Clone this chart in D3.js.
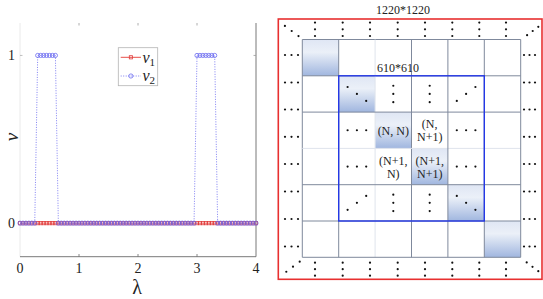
<!DOCTYPE html>
<html>
<head>
<meta charset="utf-8">
<script src="https://cdn.jsdelivr.net/npm/d3@7"></script>
<style>
  body { margin: 0; background: #fff; }
  svg text { font-family: "Liberation Serif", "DejaVu Serif", serif; }
</style>
</head>
<body>
<svg id="chart" width="543" height="299"></svg>
<script>
// ── Data ─────────────────────────────────────
const lambda = [
  0.00, 0.05, 0.10, 0.15, 0.20, 0.25, 0.30, 0.35, 0.40, 0.45,
  0.50, 0.55, 0.60, 0.65, 0.70, 0.75, 0.80, 0.85, 0.90, 0.95,
  1.00, 1.05, 1.10, 1.15, 1.20, 1.25, 1.30, 1.35, 1.40, 1.45,
  1.50, 1.55, 1.60, 1.65, 1.70, 1.75, 1.80, 1.85, 1.90, 1.95,
  2.00, 2.05, 2.10, 2.15, 2.20, 2.25, 2.30, 2.35, 2.40, 2.45,
  2.50, 2.55, 2.60, 2.65, 2.70, 2.75, 2.80, 2.85, 2.90, 2.95,
  3.00, 3.05, 3.10, 3.15, 3.20, 3.25, 3.30, 3.35, 3.40, 3.45,
  3.50, 3.55, 3.60, 3.65, 3.70, 3.75, 3.80, 3.85, 3.90, 3.95,
  4.00
];
const nu1 = [
  0,0,0,0,0,0,0,0,0,0, 0,0,0,0,0,0,0,0,0,0,
  0,0,0,0,0,0,0,0,0,0, 0,0,0,0,0,0,0,0,0,0,
  0,0,0,0,0,0,0,0,0,0, 0,0,0,0,0,0,0,0,0,0,
  0,0,0,0,0,0,0,0,0,0, 0,0,0,0,0,0,0,0,0,0,
  0
];
const nu2 = [
  0,0,0,0,0,0,1,1,1,1, 1,1,1,0,0,0,0,0,0,0,
  0,0,0,0,0,0,0,0,0,0, 0,0,0,0,0,0,0,0,0,0,
  0,0,0,0,0,0,0,0,0,0, 0,0,0,0,0,0,0,0,0,0,
  1,1,1,1,1,1,1,0,0,0, 0,0,0,0,0,0,0,0,0,0,
  0
];
const xTicks = [0, 1, 2, 3, 4];
const yTicks = [0, 1];

// Matrix sketch: diagonal cells shaded, cell text in the centre block
const gridN = 6;
const shadedCells = [[0,0],[1,1],[2,2],[3,3],[4,4],[5,5]];
const cellLabels = [
  { r: 2, c: 2, lines: ["(N, N)"] },
  { r: 2, c: 3, lines: ["(N,", "N+1)"] },
  { r: 3, c: 2, lines: ["(N+1,", "N)"] },
  { r: 3, c: 3, lines: ["(N+1,", "N+1)"] }
];
// dot glyphs: "h" horizontal, "v" vertical, "d" down-diagonal, "u" up-diagonal
const cellDots = [
  { r: 1, c: 1, type: "d" }, { r: 1, c: 2, type: "v" }, { r: 1, c: 3, type: "v" }, { r: 1, c: 4, type: "u" },
  { r: 2, c: 1, type: "h" }, { r: 2, c: 4, type: "h" },
  { r: 3, c: 1, type: "h" }, { r: 3, c: 4, type: "h" },
  { r: 4, c: 1, type: "u" }, { r: 4, c: 2, type: "v" }, { r: 4, c: 3, type: "v" }, { r: 4, c: 4, type: "d" }
];

const svg = d3.select("#chart");

// ── Left plot ────────────────────────────────
const x = d3.scaleLinear().domain([0, 4]).range([20, 256]);
const y = d3.scaleLinear().domain([-0.2, 1.2]).range([256.7, 21.9]);

const plot = svg.append("g");

// axes lines
plot.append("line").attr("x1", 20).attr("x2", 20).attr("y1", 23).attr("y2", 256.7)
  .attr("stroke", "#e4e4e4").attr("stroke-width", 0.8);
plot.append("line").attr("x1", 256).attr("x2", 256).attr("y1", 23).attr("y2", 256.7)
  .attr("stroke", "#6a6a6a").attr("stroke-width", 0.9);
plot.append("line").attr("x1", 20).attr("x2", 256).attr("y1", 256.7).attr("y2", 256.7)
  .attr("stroke", "#6a6a6a").attr("stroke-width", 0.9);

// ticks
xTicks.slice(1, -1).forEach(t => {
  plot.append("line").attr("x1", x(t)).attr("x2", x(t)).attr("y1", 256.7).attr("y2", 254)
    .attr("stroke", "#6a6a6a").attr("stroke-width", 0.8);
  plot.append("line").attr("x1", x(t)).attr("x2", x(t)).attr("y1", 23).attr("y2", 25.5)
    .attr("stroke", "#9a9a9a").attr("stroke-width", 0.8);
});
yTicks.forEach(t => {
  plot.append("line").attr("x1", 20).attr("x2", 22.5).attr("y1", y(t)).attr("y2", y(t))
    .attr("stroke", "#b0b0b0").attr("stroke-width", 0.8);
  plot.append("line").attr("x1", 256).attr("x2", 253.5).attr("y1", y(t)).attr("y2", y(t))
    .attr("stroke", "#9a9a9a").attr("stroke-width", 0.8);
});

// tick labels
plot.selectAll(".xt").data(xTicks).join("text")
  .attr("x", d => x(d)).attr("y", 273)
  .attr("text-anchor", "middle").attr("font-size", 14).attr("fill", "#222")
  .text(d => d);
plot.selectAll(".yt").data(yTicks).join("text")
  .attr("x", 15).attr("y", d => y(d) + 5)
  .attr("text-anchor", "end").attr("font-size", 14).attr("fill", "#222")
  .text(d => d);

// axis titles
plot.append("text").attr("x", 137).attr("y", 294)
  .attr("text-anchor", "middle").attr("font-size", 20).attr("fill", "#222")
  .text("λ");
plot.append("text").attr("transform", "translate(18,137) rotate(-90)")
  .attr("text-anchor", "middle").attr("font-size", 19).attr("fill", "#222")
  .attr("font-style", "italic").text("ν");

// series
const pts1 = lambda.map((l, i) => [l, nu1[i]]);
const pts2 = lambda.map((l, i) => [l, nu2[i]]);
const line = d3.line().x(d => x(d[0])).y(d => y(d[1]));

plot.append("path").attr("d", line(pts1))
  .attr("fill", "none").attr("stroke", "#e8504a").attr("stroke-width", 1);
plot.selectAll(".m1").data(pts1).join("rect")
  .attr("x", d => x(d[0]) - 1.6).attr("y", d => y(d[1]) - 1.6)
  .attr("width", 3.2).attr("height", 3.2)
  .attr("fill", "none").attr("stroke", "#e03c3c").attr("stroke-width", 0.8);

plot.append("path").attr("d", line(pts2))
  .attr("fill", "none").attr("stroke", "#6060ee").attr("stroke-width", 0.8)
  .attr("stroke-dasharray", "1,1.5");
plot.selectAll(".m2").data(pts2).join("circle")
  .attr("cx", d => x(d[0])).attr("cy", d => y(d[1])).attr("r", 2.1)
  .attr("fill", "none").attr("stroke", "#6a6af0").attr("stroke-width", 0.8);

// legend
const leg = plot.append("g");
leg.append("rect").attr("x", 118.3).attr("y", 47.7).attr("width", 39.4).attr("height", 38)
  .attr("fill", "#fff").attr("stroke", "#b4b4b4").attr("stroke-width", 0.8);
leg.append("line").attr("x1", 120.7).attr("x2", 141).attr("y1", 57.3).attr("y2", 57.3)
  .attr("stroke", "#e8504a").attr("stroke-width", 1);
leg.append("rect").attr("x", 129.3).attr("y", 55.7).attr("width", 3.2).attr("height", 3.2)
  .attr("fill", "none").attr("stroke", "#e03c3c").attr("stroke-width", 0.8);
leg.append("line").attr("x1", 120.7).attr("x2", 141).attr("y1", 76).attr("y2", 76)
  .attr("stroke", "#6060ee").attr("stroke-width", 0.8).attr("stroke-dasharray", "1,1.5");
leg.append("circle").attr("cx", 130.9).attr("cy", 76).attr("r", 2.1)
  .attr("fill", "none").attr("stroke", "#6a6af0").attr("stroke-width", 0.8);
[["1", 62.5], ["2", 81]].forEach(([s, yy]) => {
  const t = leg.append("text").attr("x", 142.5).attr("y", yy)
    .attr("font-size", 16).attr("fill", "#222").attr("font-style", "italic");
  t.append("tspan").text("ν");
  t.append("tspan").attr("font-size", 11).attr("font-style", "normal").attr("dy", 3).text(s);
});

// ── Right diagram ────────────────────────────
const gx = d3.scaleLinear().domain([0, gridN]).range([302.3, 520.7]);
const gy = d3.scaleLinear().domain([0, gridN]).range([39.5, 257.3]);
const cw = gx(1) - gx(0), ch = gy(1) - gy(0);

const diag = svg.append("g");

const defs = svg.append("defs");
const grad = defs.append("linearGradient").attr("id", "cellShade")
  .attr("x1", 0).attr("y1", 0).attr("x2", 0).attr("y2", 1);
grad.append("stop").attr("offset", "0%").attr("stop-color", "#dfe6f4");
grad.append("stop").attr("offset", "35%").attr("stop-color", "#ebf0f8");
grad.append("stop").attr("offset", "100%").attr("stop-color", "#a0b6df");

diag.selectAll(".shade").data(shadedCells).join("rect")
  .attr("x", d => gx(d[1])).attr("y", d => gy(d[0]))
  .attr("width", cw).attr("height", ch)
  .attr("fill", "url(#cellShade)");

// grid lines (the middle ones are faint)
d3.range(gridN + 1).forEach(i => {
  diag.append("line").attr("x1", gx(i)).attr("x2", gx(i)).attr("y1", gy(0)).attr("y2", gy(gridN))
    .attr("stroke", i === 2 ? "#dfe4ec" : "#7f899c").attr("stroke-width", 1);
  diag.append("line").attr("x1", gx(0)).attr("x2", gx(gridN)).attr("y1", gy(i)).attr("y2", gy(i))
    .attr("stroke", i === 3 ? "#dfe4ec" : "#7f899c").attr("stroke-width", 1);
});

// inner 610*610 block
diag.append("rect").attr("x", gx(1)).attr("y", gy(1))
  .attr("width", gx(5) - gx(1)).attr("height", gy(5) - gy(1))
  .attr("fill", "none").attr("stroke", "#2438e6").attr("stroke-width", 1.4);
diag.append("text").attr("x", 398).attr("y", 72)
  .attr("text-anchor", "middle").attr("font-size", 12).attr("fill", "#222").text("610*610");

// outer 1220*1220 block
diag.append("rect").attr("x", 278.3).attr("y", 19).attr("width", 263.7).attr("height", 260.3)
  .attr("fill", "none").attr("stroke", "#e83030").attr("stroke-width", 1.6);
diag.append("text").attr("x", 403).attr("y", 14)
  .attr("text-anchor", "middle").attr("font-size", 12).attr("fill", "#222").text("1220*1220");

// cell labels
cellLabels.forEach(d => {
  const cx = gx(d.c) + cw / 2, cy = gy(d.r) + ch / 2;
  const n = d.lines.length;
  d.lines.forEach((s, k) => {
    diag.append("text").attr("x", cx).attr("y", cy + 4.5 + (k - (n - 1) / 2) * 13)
      .attr("text-anchor", "middle").attr("font-size", 12).attr("fill", "#222").text(s);
  });
});

function dot(px, py) {
  diag.append("circle").attr("cx", px).attr("cy", py).attr("r", 1.1).attr("fill", "#111");
}
function glyph(type, cx, cy, s) {
  [-1, 0, 1].forEach(k => {
    if (type === "h") dot(cx + k * s, cy);
    if (type === "v") dot(cx, cy + k * s);
    if (type === "d") dot(cx + k * s, cy + k * s * 0.75);
    if (type === "u") dot(cx + k * s, cy - k * s * 0.75);
  });
}

cellDots.forEach(d => {
  glyph(d.type, gx(d.c) + cw / 2, gy(d.r) + ch / 2, d.type === "v" ? 8.2 : 9.3);
});

// border dots outside the grid
const edgeCols = [315, 342.7, 370, 397.7, 425, 452.3, 479.3, 506];
const edgeRows = [55, 82.5, 109.5, 136.8, 164, 191.5, 219, 246.5];
edgeCols.forEach(cx => { glyph("v", cx, 29.3, 6.7); glyph("v", cx, 269.2, 6.5); });
edgeRows.forEach(cy => { glyph("h", 291.5, cy, 6.5); glyph("h", 529.5, cy, 5.5); });
glyph("d", 291.7, 31, 6.8);
glyph("u", 532.7, 31, 5.6);
glyph("u", 293, 266.7, 6.7);
glyph("d", 532.5, 266.8, 5.8);
</script>
</body>
</html>
